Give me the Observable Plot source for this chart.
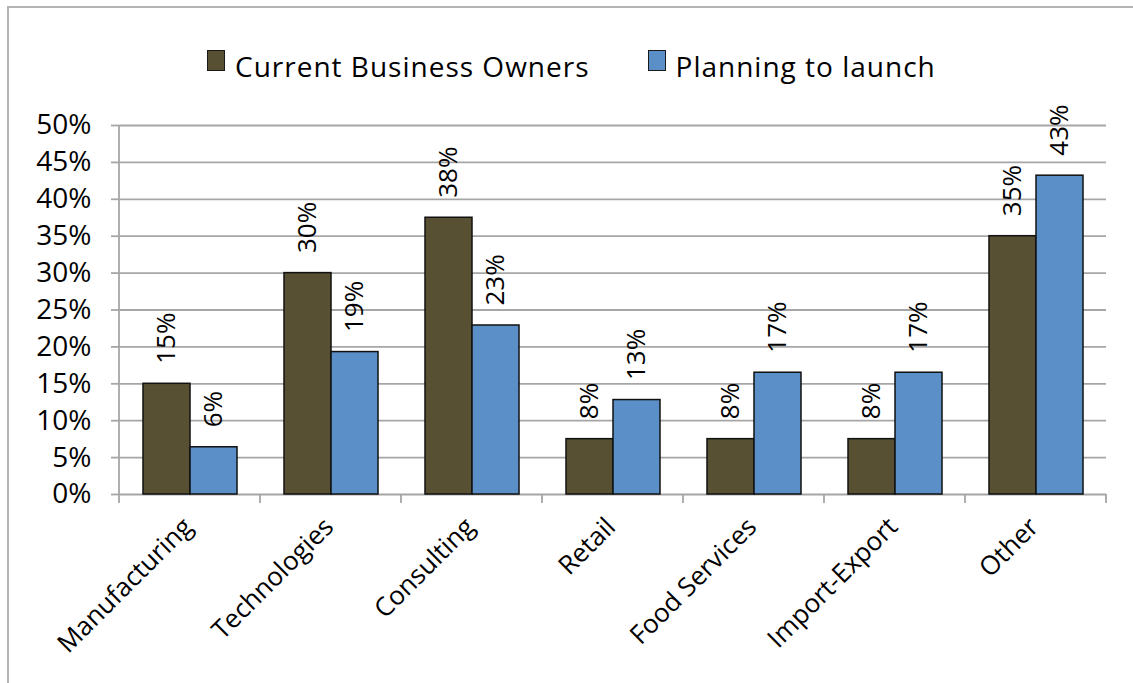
<!DOCTYPE html>
<html>
<head>
<meta charset="utf-8">
<script src="https://cdn.jsdelivr.net/npm/d3@7"></script>
<script src="https://cdn.jsdelivr.net/npm/@observablehq/plot@0.6"></script>
<style>
  html, body { margin: 0; padding: 0; background: #fff; }
  body { width: 1133px; height: 683px; position: relative; overflow: hidden; font-family: "Open Sans", sans-serif; }
  #border { position: absolute; left: 7px; top: 6px; width: 2000px; height: 2000px; border-top: 2.5px solid #b3b3b3; border-left: 2.5px solid #b3b3b3; }
  #legend { position: absolute; left: 207px; top: 50px; display: flex; align-items: flex-start; font-size: 28px; line-height: 28px; letter-spacing: 1px; color: #000; }
  #legend .item { display: flex; align-items: flex-start; }
  #legend .item + .item { margin-left: 58px; }
  #legend .sw { width: 16px; height: 19px; border: 1.5px solid #1a1a1a; margin-right: 10px; }
  #legend span { margin-top: 2px; }
  #chart { position: absolute; left: 0; top: 100px; }
</style>
</head>
<body>
<div id="border"></div>
<div id="legend"></div>
<div id="chart"></div>
<script>
const categories = ["Manufacturing", "Technologies", "Consulting", "Retail", "Food Services", "Import-Export", "Other"];
const seriesNames = ["Current Business Owners", "Planning to launch"];
const currentOwners = [15, 30, 37.5, 7.5, 7.5, 7.5, 35];
const planningToLaunch = [6.4, 19.3, 22.9, 12.8, 16.5, 16.5, 43.2];
const yTicks = [0, 5, 10, 15, 20, 25, 30, 35, 40, 45, 50];
const seriesColors = ["#585032", "#5B8FC7"];

const rows = categories.flatMap((c, i) => [
  {category: c, series: seriesNames[0], value: currentOwners[i]},
  {category: c, series: seriesNames[1], value: planningToLaunch[i]}
]);

// legend
const legend = document.getElementById("legend");
seriesNames.forEach((s, i) => {
  const item = document.createElement("div");
  item.className = "item";
  const sw = document.createElement("div");
  sw.className = "sw";
  sw.style.background = seriesColors[i];
  const t = document.createElement("span");
  t.textContent = s;
  item.append(sw, t);
  legend.append(item);
});

const W = 1133, H = 583;
const chart = Plot.plot({
  width: W,
  height: H,
  marginLeft: 118,
  marginRight: 26,
  marginTop: 25,
  marginBottom: 189,
  style: {fontFamily: "'Open Sans', sans-serif", color: "#000", background: "transparent", overflow: "visible"},
  fx: {domain: categories, padding: 0, axis: null},
  x: {domain: seriesNames, paddingInner: 0, paddingOuter: 0.487, axis: null},
  y: {domain: [0, 50]},
  color: {domain: seriesNames, range: seriesColors},
  marks: [
    Plot.ruleY(yTicks, {stroke: "#a6a6a6", strokeWidth: 1.8}),
    Plot.axisY({ticks: yTicks, tickFormat: d => d + "%", tickSize: 8, tickPadding: 20, fontSize: 28, stroke: "#a6a6a6", strokeWidth: 1.8, label: null}),
    Plot.barY(rows, {fx: "category", x: "series", y: "value", fill: "series", stroke: "#111", strokeWidth: 1.5}),
    Plot.text(rows, {fx: "category", x: "series", y: "value", text: d => Math.round(d.value) + "%", rotate: -90, textAnchor: "start", lineAnchor: "middle", dy: -20, fontSize: 26, fill: "#000"}),
    Plot.text(categories, {fx: d => d, text: d => d, frameAnchor: "bottom", rotate: -45, textAnchor: "end", lineAnchor: "bottom", dx: 4, dy: 34, fontSize: 26, fill: "#000"})
  ]
});
document.getElementById("chart").append(chart);

// axis line and category boundary ticks, positioned via the plot's own scales
const fx = chart.scale("fx");
const ys = chart.scale("y");
const y0 = ys.apply(0), yTop = ys.apply(50);
const svg = d3.select(chart);
const g = svg.append("g").attr("stroke", "#a6a6a6").attr("stroke-width", 1.8);
const bounds = categories.map(c => fx.apply(c)).concat([fx.apply(categories[categories.length - 1]) + fx.bandwidth]);
g.append("line").attr("x1", bounds[0]).attr("x2", bounds[0]).attr("y1", yTop).attr("y2", y0 + 9);
bounds.slice(1).forEach(b => {
  g.append("line").attr("x1", b).attr("x2", b).attr("y1", y0).attr("y2", y0 + 9);
});
</script>
</body>
</html>
